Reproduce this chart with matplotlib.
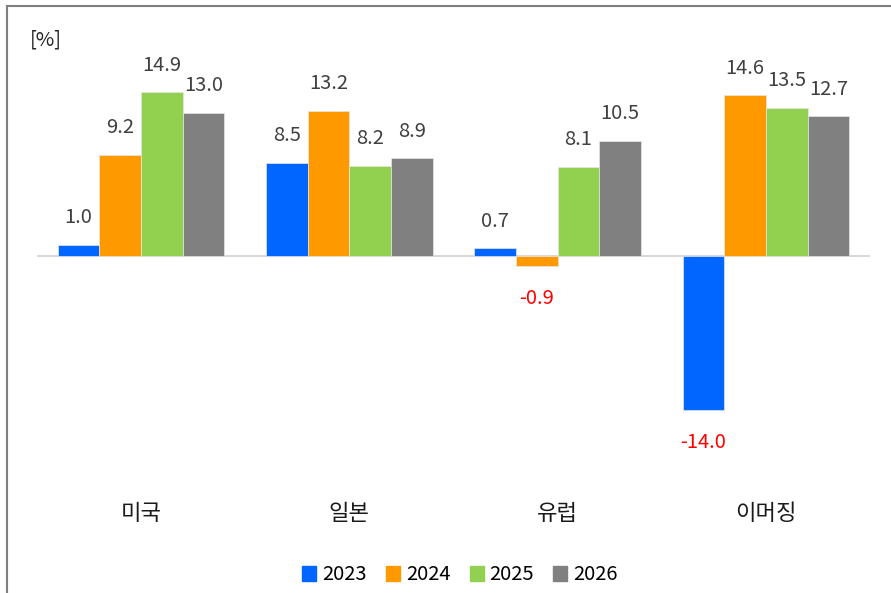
import matplotlib.pyplot as plt
import matplotlib.patches as mpatches
import numpy as np

plt.rcParams['font.family'] = ['Noto Sans CJK KR', 'DejaVu Sans']

# 데이터
regions = ['미국', '일본', '유럽', '이머징']
years = ['2023', '2024', '2025', '2026']
v2023 = [1.0, 8.5, 0.7, -14.0]
v2024 = [9.2, 13.2, -0.9, 14.6]
v2025 = [14.9, 8.2, 8.1, 13.5]
v2026 = [13.0, 8.9, 10.5, 12.7]
series = [v2023, v2024, v2025, v2026]
colors = ['#0066FF', '#FF9900', '#92D050', '#808080']

W, H = 891, 593
fig = plt.figure(figsize=(W / 100, H / 100), dpi=100)
ax = fig.add_axes([37 / W, 1 - 476 / H, 833 / W, 440 / H])

x = np.arange(len(regions))
width = 0.2
for i, (vals, col) in enumerate(zip(series, colors)):
    pos = x + (i - 1.5) * width
    bars = ax.bar(pos, vals, width, color=col, edgecolor='#E6E6E6', linewidth=0.5,
                  label=years[i], zorder=2)
    for b, v in zip(bars, vals):
        if v >= 0:
            ax.annotate(f'{v:.1f}', (b.get_x() + b.get_width() / 2, v),
                        xytext=(0, 19.5), textcoords='offset points',
                        ha='center', va='center', fontsize=14.5, color='#404040')
        else:
            ax.annotate(f'{v:.1f}', (b.get_x() + b.get_width() / 2, v),
                        xytext=(0, -23.5), textcoords='offset points',
                        ha='center', va='center', fontsize=14.5, color='#FF0000')

ax.axhline(0, color='#D9D9D9', linewidth=1.5, zorder=1)
ax.set_xlim(-0.5, 3.5)
ax.set_ylim(-20, 20)
ax.set_yticks([])
ax.set_xticks(x)
ax.set_xticklabels(regions, fontsize=16, color='#1A1A1A')
ax.tick_params(axis='x', length=0, pad=19)
for s in ax.spines.values():
    s.set_visible(False)

fig.text(30 / W, 1 - 40 / H, '[%]', fontsize=14.5, color='#262626', va='center', ha='left')

handles = [mpatches.Patch(color=c, label=y) for c, y in zip(colors, years)]
fig.legend(handles=handles, loc='center', bbox_to_anchor=(460 / W, 1 - 575 / H),
           ncol=4, frameon=False, fontsize=14.5, handlelength=0.7, handleheight=0.7,
           handletextpad=0.3, columnspacing=0.95)

# 바깥 테두리
fig.patches.append(mpatches.Rectangle((7 / W, -0.05), 1.1, 1 - 6 / H + 0.05,
                                      transform=fig.transFigure, fill=False,
                                      edgecolor='#7F7F7F', linewidth=1.5))

fig.savefig('out.png', dpi=100)
